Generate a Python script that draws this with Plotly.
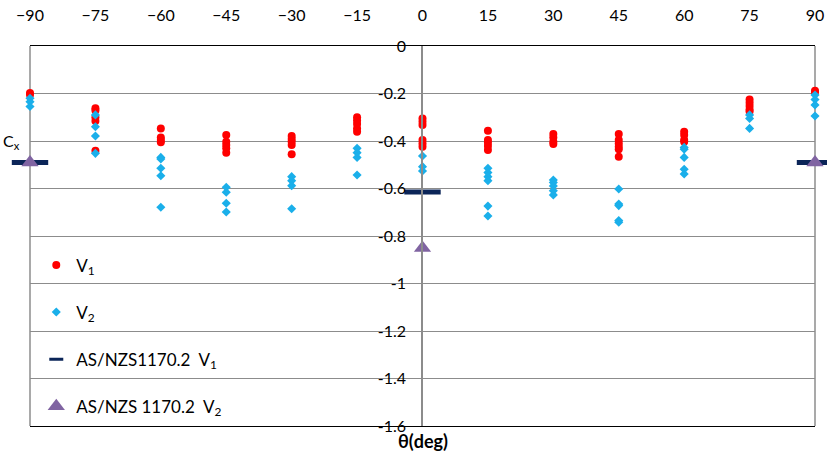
import plotly.graph_objects as go

angles = [-90, -75, -60, -45, -30, -15, 0, 15, 30, 45, 60, 75, 90]

v1_values = {
    -90: [-0.198, -0.205],
    -75: [-0.262, -0.272, -0.30, -0.316, -0.441],
    -60: [-0.347, -0.385, -0.396, -0.405],
    -45: [-0.375, -0.403, -0.417, -0.431, -0.449],
    -30: [-0.379, -0.392, -0.403, -0.417, -0.456],
    -15: [-0.30, -0.314, -0.328, -0.347, -0.361],
    0: [-0.305, -0.319, -0.333, -0.396, -0.41, -0.424],
    15: [-0.357, -0.396, -0.407, -0.421, -0.438],
    30: [-0.371, -0.385, -0.403, -0.413],
    45: [-0.371, -0.396, -0.41, -0.424, -0.435, -0.466],
    60: [-0.361, -0.375, -0.396, -0.403],
    75: [-0.225, -0.239, -0.253, -0.267, -0.276],
    90: [-0.188, -0.195],
}
v2_values = {
    -90: [-0.22, -0.235, -0.255],
    -75: [-0.29, -0.34, -0.379, -0.452],
    -60: [-0.469, -0.476, -0.515, -0.546, -0.679],
    -45: [-0.595, -0.616, -0.662, -0.699],
    -30: [-0.55, -0.567, -0.588, -0.685],
    -15: [-0.431, -0.449, -0.469, -0.543],
    0: [-0.463, -0.508, -0.526],
    15: [-0.515, -0.533, -0.55, -0.567, -0.674, -0.716],
    30: [-0.564, -0.575, -0.589, -0.609, -0.627],
    45: [-0.602, -0.665, -0.672, -0.735, -0.742],
    60: [-0.427, -0.435, -0.469, -0.519, -0.539],
    75: [-0.29, -0.305, -0.347],
    90: [-0.206, -0.225, -0.248, -0.295],
}
code_angles = [-90, 0, 90]
code_v1 = [-0.49, -0.615, -0.49]
code_v2 = [-0.49, -0.85, -0.49]

y_ticks = [0, -0.2, -0.4, -0.6, -0.8, -1.0, -1.2, -1.4, -1.6]
y_tick_text = ["0", "-0.2", "-0.4", "-0.6", "-0.8", "-1", "-1.2", "-1.4", "-1.6"]
x_ticks = angles

def flatten(d):
    xs, ys = [], []
    for a in angles:
        for v in d.get(a, []):
            xs.append(a)
            ys.append(v)
    return xs, ys

x1, y1 = flatten(v1_values)
x2, y2 = flatten(v2_values)

RED = "#FF0000"
BLUE = "#1AAFEA"
NAVY = "#0B2558"
PURPLE = "#8064A2"

FONT = "Lato"
fig = go.Figure()
fig.add_trace(go.Scatter(x=x1, y=y1, mode="markers", name="V<sub>1</sub>",
                         legendgroup="a",
                         marker=dict(symbol="circle", size=8, color=RED),
                         cliponaxis=False))
fig.add_trace(go.Scatter(x=x2, y=y2, mode="markers", name="V<sub>2</sub>",
                         legendgroup="b",
                         marker=dict(symbol="diamond", size=7, color=BLUE),
                         cliponaxis=False))
fig.add_trace(go.Scatter(x=code_angles, y=code_v1, mode="markers",
                         name="AS/NZS1170.2  V<sub>1</sub>", legendgroup="c",
                         showlegend=False,
                         marker=dict(symbol="line-ew", size=26,
                                     line=dict(width=5, color=NAVY)),
                         cliponaxis=False))
# legend-only entry with a smaller dash symbol
fig.add_trace(go.Scatter(x=[None], y=[None], mode="markers",
                         name="AS/NZS1170.2  V<sub>1</sub>", legendgroup="c",
                         marker=dict(symbol="line-ew", size=10,
                                     line=dict(width=3, color=NAVY))))
fig.add_trace(go.Scatter(x=code_angles, y=code_v2, mode="markers",
                         name="AS/NZS 1170.2  V<sub>2</sub>", legendgroup="d",
                         marker=dict(symbol="triangle-up", size=15, color=PURPLE),
                         cliponaxis=False))

fig.update_layout(
    width=827, height=456,
    margin=dict(l=30, r=12, t=46, b=30, autoexpand=False),
    paper_bgcolor="white", plot_bgcolor="white",
    font=dict(family=FONT, size=16, color="#000000"),
    showlegend=True,
    legend=dict(x=0.008, y=0.47, xanchor="left", yanchor="top",
                bgcolor="rgba(0,0,0,0)", traceorder="grouped",
                tracegroupgap=22, itemwidth=30,
                font=dict(family=FONT, size=17)),
    xaxis=dict(range=[-90, 90], side="top", tickvals=x_ticks,
               showgrid=False, zeroline=False, showline=True, mirror=True,
               linecolor="#000000", linewidth=1, ticks="", automargin=False,
               ticklabelstandoff=18, tickfont=dict(size=16)),
    yaxis=dict(range=[-1.6, 0], tickvals=y_ticks, ticktext=y_tick_text,
               anchor="free", position=0.4994, showgrid=True,
               gridcolor="#8C8C8C", gridwidth=1, zeroline=False,
               showline=True, linecolor="#8C8C8C", linewidth=1.5,
               ticks="", ticklabelstandoff=12, automargin=False,
               tickfont=dict(size=16)),
    shapes=[
        dict(type="line", xref="paper", yref="paper", x0=0, x1=0, y0=0, y1=1,
             line=dict(color="#8C8C8C", width=1.5), layer="below"),
        dict(type="line", xref="paper", yref="paper", x0=1, x1=1, y0=0, y1=1,
             line=dict(color="#8C8C8C", width=1.5), layer="below"),
    ],
    annotations=[
        dict(text="<b>θ(deg)</b>", xref="x", yref="paper", x=0, y=-0.04,
             xanchor="center", yanchor="middle", showarrow=False,
             font=dict(size=18)),
        dict(text="C<sub>x</sub>", xref="paper", yref="y", x=-0.037, y=-0.40,
             xanchor="left", yanchor="middle", showarrow=False,
             font=dict(size=16)),
    ],
)

fig.write_html("out.html")
